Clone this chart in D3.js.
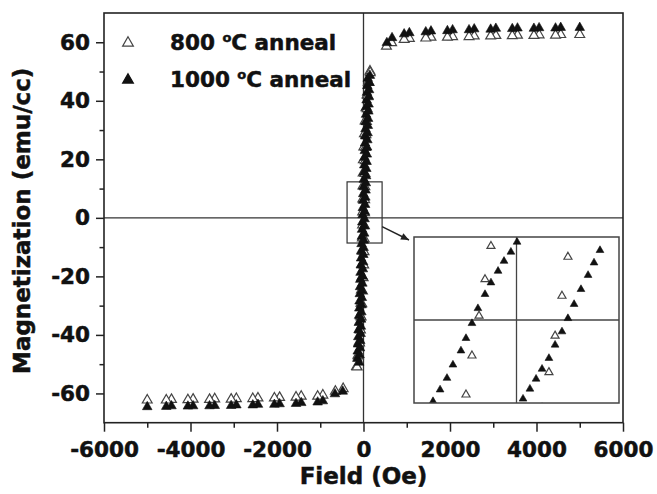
<!DOCTYPE html>
<html>
<head>
<meta charset="utf-8">
<script src="https://cdn.jsdelivr.net/npm/d3@7"></script>
<style>
  html, body { margin: 0; padding: 0; background: #fff; }
  svg text { font-family: "DejaVu Sans", sans-serif; font-weight: bold; fill: #111; stroke: #111; stroke-width: 0.5px; }
</style>
</head>
<body>
<svg id="chart" width="657" height="494"></svg>
<script>
// ---- Axis ticks ----
const xTicks = [-6000, -4000, -2000, 0, 2000, 4000, 6000];
const xMinorTicks = [-5000, -3000, -1000, 1000, 3000, 5000];
const yTicks = [-60, -40, -20, 0, 20, 40, 60];
const yMinorTicks = [-50, -30, -10, 10, 30, 50];

// ---- Legend labels ----
const seriesNames = ["800", "1000"];

// ---- 1000 °C anneal: descending branch (field in Oe, magnetization in emu/cc) ----
const field1000Down = [5000, 4560, 4060, 3560, 3060, 2560, 2060, 1560, 1060, 660,
  98, 88, 80, 72, 65, 59, 53, 47, 42, 36, 30, 24, 18, 13, 7, 1, -5, -10, -16, -22,
  -28, -33, -39, -45, -51, -56, -62, -68, -74, -79, -85, -91, -97, -102, -108, -114, -120, -126, -133, -142,
  -480, -940, -1440, -1940, -2440, -2940, -3440, -3940, -4440, -5000];
const mag1000Down = [65.0, 65.0, 64.9, 64.8, 64.7, 64.5, 64.2, 63.8, 63.2, 61.5,
  47.6, 45.1, 42.8, 40.2, 37.9, 35.3, 32.8, 30.4, 27.9, 25.5, 22.9, 20.6, 18.0, 15.6, 13.1, 10.7, 8.2, 5.9, 3.4, 1.0,
  -1.5, -4.0, -6.4, -8.9, -11.3, -13.8, -16.2, -18.7, -21.1, -23.6, -26.0, -28.5, -30.9, -33.4, -35.8, -38.3, -40.7, -43.2, -45.6, -48.1,
  -59.3, -62.6, -63.2, -63.6, -63.8, -64.0, -64.2, -64.3, -64.3, -64.6];

// ---- 1000 °C anneal: ascending branch ----
const field1000Up = [-4560, -4060, -3560, -3060, -2560, -2060, -1560, -1060, -660,
  -100, -90, -82, -75, -67, -61, -56, -50, -44, -38, -33, -27, -21, -15, -9, -4, 2, 8, 14, 19,
  25, 31, 37, 42, 48, 54, 60, 65, 71, 77, 83, 89, 94, 100, 106, 112, 117, 123, 129, 137, 148,
  540, 940, 1440, 1940, 2440, 2940, 3440, 3940, 4440];
const mag1000Up = [-64.5, -64.4, -64.3, -64.2, -64.0, -63.8, -63.5, -63.0, -60.2,
  -49.4, -46.9, -44.5, -42.0, -39.6, -37.1, -34.7, -32.2, -29.8, -27.3, -24.9, -22.4, -20.0, -17.5, -15.1, -12.6, -10.2, -7.7, -5.3, -2.8,
  -0.4, 2.1, 4.5, 7.0, 9.4, 11.9, 14.3, 16.8, 19.2, 21.7, 24.1, 26.6, 29.0, 31.5, 33.9, 36.4, 38.8, 41.3, 43.7, 46.2, 48.6,
  59.8, 62.8, 63.5, 63.9, 64.2, 64.4, 64.6, 64.7, 64.8];

// ---- 800 °C anneal: descending branch ----
const field800Down = [5000, 4560, 4060, 3560, 3060, 2560, 2060, 1560, 1060, 650,
  150, 112, 82, 58, 38, 22, 8, -3, -8, -12, -16, -19, -22, -26, -29, -33, -40, -48, -58, -70, -86, -104, -128, -160,
  -470, -940, -1440, -1940, -2440, -2940, -3440, -3940, -4440, -5000];
const mag800Down = [62.6, 62.6, 62.5, 62.4, 62.3, 62.1, 61.9, 61.7, 61.3, 59.8,
  50.1, 46.3, 42.0, 37.6, 33.1, 28.7, 24.2, 19.8, 15.3, 10.9, 6.4, 2.0, -2.5, -6.9, -11.4, -15.8, -20.3, -24.7, -29.2, -33.6, -38.1, -42.5, -47.0, -50.8,
  -58.4, -60.6, -61.0, -61.4, -61.6, -61.8, -61.9, -62.0, -62.1, -62.3];

// ---- 800 °C anneal: ascending branch ----
const field800Up = [-4560, -4060, -3560, -3060, -2560, -2060, -1560, -1060, -650,
  -150, -118, -92, -72, -56, -40, -24, -8, 4, 12, 17, 21, 24, 27, 31, 35, 40, 47, 56, 68, 83, 100, 124, 155,
  530, 940, 1440, 1940, 2440, 2940, 3440, 3940, 4440];
const mag800Up = [-62.3, -62.2, -62.1, -62.0, -61.8, -61.6, -61.3, -61.0, -59.3,
  -51.0, -47.2, -42.8, -38.3, -33.9, -29.4, -25.0, -20.5, -16.1, -11.6, -7.2, -2.7, 1.7, 6.2, 10.6, 15.1, 19.5, 24.0, 28.4, 32.9, 37.3, 41.8, 46.2, 49.6,
  58.6, 60.9, 61.4, 61.7, 61.9, 62.1, 62.2, 62.3, 62.4];

// ---- Inset: detail of the loop near the origin ----
const insetField1000Down = [0.3, -3.0, -6.7, -9.9, -13.7, -16.9, -20.7, -23.9, -27.1, -29.8, -34.1, -37.3, -41.0, -44.8];
const insetMag1000Down = [9.4, 8.2, 7.1, 5.9, 4.5, 3.1, 1.4, -0.4, -2.2, -3.7, -5.4, -7.0, -8.4, -9.8];
const insetField1000Up = [3.5, 7.2, 10.5, 13.7, 17.4, 20.7, 24.4, 27.6, 30.9, 34.6, 38.4, 41.6, 44.8, 48.6];
const insetMag1000Up = [-9.5, -8.3, -7.1, -5.9, -4.6, -3.0, -1.4, 0.2, 1.9, 3.7, 5.4, 6.9, 8.4, 10.5];
const insetField800Down = [-13.7, -16.9, -20.1, -23.9, -27.1];
const insetMag800Down = [8.9, 4.9, 0.5, -4.3, -9.0];
const insetField800Up = [13.7, 17.4, 20.7, 24.4, 27.6];
const insetMag800Up = [-10.6, -6.3, -1.9, 2.9, 7.6];

// ---- Layout ----
const svg = d3.select("#chart");
const plot = { left: 104, top: 13, right: 623, bottom: 422.7 };
const x = d3.scaleLinear().domain([-6000, 6000]).range([plot.left, plot.right]);
const y = d3.scaleLinear().domain([-70, 70]).range([plot.bottom, plot.top]);

const zip = (fs, ms) => fs.map((f, i) => ({ f, m: ms[i] }));

// Zero lines
svg.append("line").attr("x1", plot.left).attr("x2", plot.right)
  .attr("y1", y(0)).attr("y2", y(0)).attr("stroke", "#333").attr("stroke-width", 1.3);
svg.append("line").attr("x1", x(0)).attr("x2", x(0))
  .attr("y1", plot.top).attr("y2", plot.bottom).attr("stroke", "#333").attr("stroke-width", 1.3);

// Axes
const fmt = d => String(d);
const xAxis = svg.append("g").attr("transform", `translate(0,${plot.bottom})`)
  .call(d3.axisBottom(x).tickValues(xTicks).tickSize(9).tickSizeOuter(0).tickPadding(10).tickFormat(fmt));
const xMinor = svg.append("g").attr("transform", `translate(0,${plot.bottom})`)
  .call(d3.axisBottom(x).tickValues(xMinorTicks).tickSize(5).tickSizeOuter(0).tickFormat(""));
const yAxis = svg.append("g").attr("transform", `translate(${plot.left},0)`)
  .call(d3.axisLeft(y).tickValues(yTicks).tickSize(8).tickSizeOuter(0).tickPadding(6).tickFormat(fmt));
const yMinor = svg.append("g").attr("transform", `translate(${plot.left},0)`)
  .call(d3.axisLeft(y).tickValues(yMinorTicks).tickSize(4.5).tickSizeOuter(0).tickFormat(""));
[xAxis, xMinor, yAxis, yMinor].forEach(g => {
  g.select(".domain").remove();
  g.selectAll(".tick line").attr("stroke", "#222").attr("stroke-width", 1.5);
  g.selectAll(".tick text").attr("font-size", 21.5).attr("font-family", "DejaVu Sans")
    .attr("font-weight", "bold").attr("fill", "#111");
});

// Frame
svg.append("rect").attr("x", plot.left).attr("y", plot.top)
  .attr("width", plot.right - plot.left).attr("height", plot.bottom - plot.top)
  .attr("fill", "none").attr("stroke", "#222").attr("stroke-width", 1.6);

// Axis titles
svg.append("text").attr("x", (plot.left + plot.right) / 2).attr("y", 484)
  .attr("text-anchor", "middle").attr("font-size", 23).text("Field (Oe)");
svg.append("text").attr("transform", `translate(30,${(plot.top + plot.bottom) / 2 + 3}) rotate(-90)`)
  .attr("text-anchor", "middle").attr("font-size", 23).text("Magnetization (emu/cc)");

// Marker helpers
const tri = s => d3.symbol().type(d3.symbolTriangle).size(s)();
function drawOpen(g, pts, sx, sy, size) {
  g.selectAll(null).data(pts).join("path")
    .attr("d", tri(size))
    .attr("transform", d => `translate(${sx(d.f)},${sy(d.m)})`)
    .attr("fill", "#fff").attr("stroke", "#444").attr("stroke-width", 1.2);
}
function drawFilled(g, pts, sx, sy, size) {
  g.selectAll(null).data(pts).join("path")
    .attr("d", tri(size))
    .attr("transform", d => `translate(${sx(d.f)},${sy(d.m)})`)
    .attr("fill", "#111").attr("stroke", "#111").attr("stroke-width", 0.6);
}

// Zoom region marker on the main loop
const zoomBox = { f0: -380, f1: 430, m0: -8.6, m1: 12.3 };
svg.append("rect").attr("x", x(zoomBox.f0)).attr("y", y(zoomBox.m1))
  .attr("width", x(zoomBox.f1) - x(zoomBox.f0)).attr("height", y(zoomBox.m0) - y(zoomBox.m1))
  .attr("fill", "none").attr("stroke", "#333").attr("stroke-width", 1.2);

// Main loop
const main = svg.append("g");
drawOpen(main, zip(field800Down, mag800Down), x, y, 42);
drawOpen(main, zip(field800Up, mag800Up), x, y, 42);
drawFilled(main, zip(field1000Down, mag1000Down), x, y, 40);
drawFilled(main, zip(field1000Up, mag1000Up), x, y, 40);

// Legend
const legendRows = [
  { name: seriesNames[0], filled: false, cy: 43, base: 50 },
  { name: seriesNames[1], filled: true, cy: 80, base: 87 }
];
legendRows.forEach(r => {
  svg.append("path").attr("d", tri(50)).attr("transform", `translate(128,${r.cy})`)
    .attr("fill", r.filled ? "#111" : "#fff").attr("stroke", r.filled ? "#111" : "#444").attr("stroke-width", 1.2);
  const t = svg.append("text").attr("x", 170).attr("y", r.base).attr("font-size", 21.5);
  t.append("tspan").text(r.name + " ");
  t.append("tspan").attr("font-size", 13).attr("dy", -8).text("o");
  t.append("tspan").attr("dy", 8).text("C anneal");
});

// Inset
const inset = { left: 414, top: 237, right: 619, bottom: 403 };
const ix = d3.scaleLinear().domain([-55, 55]).range([inset.left, inset.right]);
const iy = d3.scaleLinear().domain([-10, 10]).range([inset.bottom, inset.top]);
svg.append("defs").append("clipPath").attr("id", "insetClip").append("rect")
  .attr("x", inset.left).attr("y", inset.top)
  .attr("width", inset.right - inset.left).attr("height", inset.bottom - inset.top);
svg.append("rect").attr("x", inset.left).attr("y", inset.top)
  .attr("width", inset.right - inset.left).attr("height", inset.bottom - inset.top).attr("fill", "#fff");
const ig = svg.append("g").attr("clip-path", "url(#insetClip)");
ig.append("line").attr("x1", inset.left).attr("x2", inset.right).attr("y1", iy(0)).attr("y2", iy(0))
  .attr("stroke", "#444").attr("stroke-width", 1.3);
ig.append("line").attr("x1", ix(0)).attr("x2", ix(0)).attr("y1", inset.top).attr("y2", inset.bottom)
  .attr("stroke", "#444").attr("stroke-width", 1.3);
drawOpen(ig, zip(insetField800Down, insetMag800Down), ix, iy, 28);
drawOpen(ig, zip(insetField800Up, insetMag800Up), ix, iy, 28);
drawFilled(ig, zip(insetField1000Down, insetMag1000Down), ix, iy, 26);
drawFilled(ig, zip(insetField1000Up, insetMag1000Up), ix, iy, 26);
svg.append("rect").attr("x", inset.left).attr("y", inset.top)
  .attr("width", inset.right - inset.left).attr("height", inset.bottom - inset.top)
  .attr("fill", "none").attr("stroke", "#444").attr("stroke-width", 1.5);

// Arrow from the zoom marker to the inset
const a0 = [x(zoomBox.f1), y(-3)];
const a1 = [inset.left - 5, inset.top + 3];
svg.append("line").attr("x1", a0[0]).attr("y1", a0[1]).attr("x2", a1[0]).attr("y2", a1[1])
  .attr("stroke", "#222").attr("stroke-width", 1.4);
const ang = Math.atan2(a1[1] - a0[1], a1[0] - a0[0]);
const hl = 8, hw = 3.5;
const back = [a1[0] - hl * Math.cos(ang), a1[1] - hl * Math.sin(ang)];
svg.append("path").attr("d",
  `M${a1[0]},${a1[1]} L${back[0] + hw * Math.sin(ang)},${back[1] - hw * Math.cos(ang)} L${back[0] - hw * Math.sin(ang)},${back[1] + hw * Math.cos(ang)} Z`)
  .attr("fill", "#222");
</script>
</body>
</html>
